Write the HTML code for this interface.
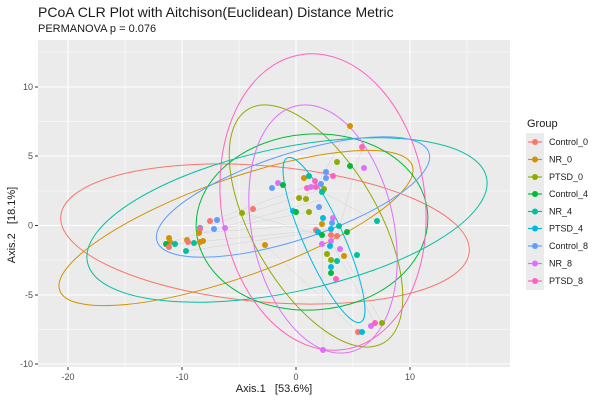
<!DOCTYPE html>
<html><head><meta charset="utf-8"><style>body{margin:0;background:#fff}svg{display:block;font-family:"Liberation Sans","DejaVu Sans",sans-serif}</style></head><body>
<svg width="600" height="400" viewBox="0 0 600 400" xmlns="http://www.w3.org/2000/svg">
<rect width="600" height="400" fill="#fff"/>
<text x="38" y="17" font-size="14" fill="#1a1a1a">PCoA CLR Plot with Aitchison(Euclidean) Distance Metric</text>
<text x="38" y="32" font-size="11" fill="#1a1a1a">PERMANOVA p = 0.076</text>
<rect x="38" y="40" width="472" height="327" fill="#ebebeb"/>
<g stroke="#fff" stroke-width="0.6">
<line x1="125" y1="40" x2="125" y2="367"/><line x1="239" y1="40" x2="239" y2="367"/><line x1="353" y1="40" x2="353" y2="367"/><line x1="467" y1="40" x2="467" y2="367"/>
<line x1="38" y1="52" x2="510" y2="52"/><line x1="38" y1="121.5" x2="510" y2="121.5"/><line x1="38" y1="191" x2="510" y2="191"/><line x1="38" y1="260" x2="510" y2="260"/><line x1="38" y1="329.5" x2="510" y2="329.5"/>
</g>
<g stroke="#fff" stroke-width="1.1">
<line x1="68" y1="40" x2="68" y2="367"/><line x1="182" y1="40" x2="182" y2="367"/><line x1="296" y1="40" x2="296" y2="367"/><line x1="410" y1="40" x2="410" y2="367"/>
<line x1="38" y1="87" x2="510" y2="87"/><line x1="38" y1="156" x2="510" y2="156"/><line x1="38" y1="225.5" x2="510" y2="225.5"/><line x1="38" y1="295" x2="510" y2="295"/><line x1="38" y1="364" x2="510" y2="364"/>
</g>
<g stroke="#bbb" stroke-width="0.5" opacity="0.5">
<line x1="170" y1="242" x2="320" y2="200"/><line x1="186" y1="251" x2="330" y2="230"/><line x1="200" y1="228" x2="320" y2="190"/><line x1="210" y1="221" x2="325" y2="180"/><line x1="242" y1="213" x2="340" y2="240"/><line x1="265" y1="245" x2="358" y2="332"/><line x1="323" y1="350" x2="322" y2="235"/><line x1="375" y1="323" x2="331" y2="241"/><line x1="350" y1="126" x2="316" y2="187"/><line x1="362" y1="147" x2="337" y2="236"/><line x1="175" y1="244" x2="331" y2="229"/><line x1="199" y1="233" x2="322" y2="224"/><line x1="225" y1="228" x2="309" y2="212"/><line x1="377" y1="221" x2="322" y2="192"/><line x1="382" y1="323" x2="340" y2="249"/>
</g>
<g fill="none" stroke-width="1">
<ellipse cx="265" cy="234" rx="205" ry="68" transform="rotate(5 265 234)" stroke="#F8766D"/>
<ellipse cx="236" cy="228" rx="187" ry="49" transform="rotate(-19.5 236 228)" stroke="#D39200"/>
<ellipse cx="316" cy="226" rx="135" ry="63" transform="rotate(60 316 226)" stroke="#93AA00"/>
<ellipse cx="312" cy="222" rx="116" ry="88" transform="rotate(-4 312 222)" stroke="#00BA38"/>
<ellipse cx="287" cy="220" rx="204" ry="72" transform="rotate(-12 287 220)" stroke="#00C19F"/>
<ellipse cx="324" cy="240" rx="90" ry="20" transform="rotate(66 324 240)" stroke="#00B9E3"/>
<ellipse cx="293" cy="197" rx="143" ry="43" transform="rotate(-18 293 197)" stroke="#619CFF"/>
<ellipse cx="323" cy="229" rx="126" ry="71" transform="rotate(78 323 229)" stroke="#DB72FB"/>
<ellipse cx="323" cy="202" rx="149" ry="102" transform="rotate(82 323 202)" stroke="#FF61C3"/>
</g>
<g>
<circle cx="350" cy="126" r="3" fill="#D39200"/><circle cx="362" cy="147" r="3" fill="#FF61C3"/><circle cx="364" cy="168" r="3" fill="#DB72FB"/><circle cx="337" cy="162" r="3" fill="#93AA00"/><circle cx="350" cy="166" r="3" fill="#00BA38"/><circle cx="304" cy="178" r="3" fill="#D39200"/><circle cx="309" cy="176" r="3" fill="#00C19F"/><circle cx="326" cy="172" r="3" fill="#619CFF"/><circle cx="326" cy="178" r="3" fill="#619CFF"/><circle cx="333" cy="176" r="3" fill="#FF61C3"/><circle cx="315" cy="181" r="3" fill="#FF61C3"/><circle cx="321" cy="184" r="3" fill="#619CFF"/><circle cx="278" cy="183" r="3" fill="#DB72FB"/><circle cx="283" cy="185" r="3" fill="#00BA38"/><circle cx="272" cy="188" r="3" fill="#619CFF"/><circle cx="307" cy="188" r="3" fill="#FF61C3"/><circle cx="311" cy="187" r="3" fill="#DB72FB"/><circle cx="316" cy="187" r="3" fill="#FF61C3"/><circle cx="324" cy="189" r="3" fill="#93AA00"/><circle cx="322" cy="192" r="3" fill="#00C19F"/><circle cx="299" cy="198" r="3" fill="#93AA00"/><circle cx="306" cy="199" r="3" fill="#93AA00"/><circle cx="309" cy="212" r="3" fill="#93AA00"/><circle cx="242" cy="213" r="3" fill="#93AA00"/><circle cx="253" cy="209" r="3" fill="#F8766D"/><circle cx="319" cy="207" r="3" fill="#619CFF"/><circle cx="293" cy="211" r="3" fill="#00B9E3"/><circle cx="296" cy="212" r="3" fill="#00BA38"/><circle cx="323" cy="218" r="3" fill="#00B9E3"/><circle cx="333" cy="218" r="3" fill="#DB72FB"/><circle cx="332" cy="223" r="3" fill="#619CFF"/><circle cx="322" cy="224" r="3" fill="#D39200"/><circle cx="339" cy="226" r="3" fill="#00C19F"/><circle cx="316" cy="230" r="3" fill="#F8766D"/><circle cx="318" cy="232" r="3" fill="#00B9E3"/><circle cx="331" cy="229" r="3" fill="#00B9E3"/><circle cx="347" cy="232" r="3" fill="#00BA38"/><circle cx="377" cy="221" r="3" fill="#00C19F"/><circle cx="322" cy="235" r="3" fill="#00BA38"/><circle cx="331" cy="235" r="3" fill="#F8766D"/><circle cx="337" cy="236" r="3" fill="#F8766D"/><circle cx="322" cy="244" r="3" fill="#DB72FB"/><circle cx="331" cy="241" r="3" fill="#DB72FB"/><circle cx="330" cy="246" r="3" fill="#00B9E3"/><circle cx="340" cy="249" r="3" fill="#DB72FB"/><circle cx="327" cy="254" r="3" fill="#93AA00"/><circle cx="344" cy="256" r="3" fill="#D39200"/><circle cx="357" cy="255" r="3" fill="#00C19F"/><circle cx="331" cy="260" r="3" fill="#93AA00"/><circle cx="337" cy="261" r="3" fill="#00C19F"/><circle cx="331" cy="267" r="3" fill="#00B9E3"/><circle cx="331" cy="273" r="3" fill="#00BA38"/><circle cx="336" cy="279" r="3" fill="#FF61C3"/><circle cx="265" cy="245" r="3" fill="#D39200"/>
<circle cx="210" cy="221" r="3" fill="#F8766D"/><circle cx="217" cy="220" r="3" fill="#619CFF"/><circle cx="214" cy="229" r="3" fill="#619CFF"/><circle cx="225" cy="228" r="3" fill="#DB72FB"/><circle cx="200" cy="228" r="3" fill="#00C19F"/><circle cx="200" cy="229" r="3" fill="#FF61C3"/><circle cx="199" cy="233" r="3" fill="#D39200"/><circle cx="187" cy="240" r="3" fill="#D39200"/><circle cx="203" cy="241" r="3" fill="#D39200"/><circle cx="200" cy="242" r="3" fill="#D39200"/><circle cx="188" cy="242" r="3" fill="#F8766D"/><circle cx="194" cy="243" r="3" fill="#00C19F"/><circle cx="186" cy="251" r="3" fill="#00C19F"/><circle cx="169" cy="238" r="3" fill="#D39200"/><circle cx="170" cy="242" r="3" fill="#D39200"/><circle cx="166" cy="244" r="3" fill="#00BA38"/><circle cx="175" cy="244" r="3" fill="#00C19F"/><circle cx="169" cy="247" r="3" fill="#F8766D"/>
<circle cx="358" cy="332" r="3" fill="#F8766D"/><circle cx="362" cy="332" r="3" fill="#00B9E3"/><circle cx="371" cy="326" r="3" fill="#DB72FB"/><circle cx="375" cy="323" r="3" fill="#FF61C3"/><circle cx="382" cy="323" r="3" fill="#93AA00"/><circle cx="323" cy="350" r="3" fill="#DB72FB"/>
</g>
<g stroke="#333" stroke-width="1">
<line x1="68" y1="367" x2="68" y2="370"/><line x1="182" y1="367" x2="182" y2="370"/><line x1="296" y1="367" x2="296" y2="370"/><line x1="410" y1="367" x2="410" y2="370"/>
<line x1="35" y1="87" x2="38" y2="87"/><line x1="35" y1="156" x2="38" y2="156"/><line x1="35" y1="225.5" x2="38" y2="225.5"/><line x1="35" y1="295" x2="38" y2="295"/><line x1="35" y1="364" x2="38" y2="364"/>
</g>
<g font-size="9" fill="#4d4d4d" text-anchor="middle">
<text x="68" y="380">-20</text><text x="182" y="380">-10</text><text x="296" y="380">0</text><text x="410" y="380">10</text>
</g>
<g font-size="9" fill="#4d4d4d" text-anchor="end">
<text x="33" y="90">10</text><text x="33" y="159">5</text><text x="33" y="228.5">0</text><text x="33" y="298">-5</text><text x="33" y="367">-10</text>
</g>
<text x="274" y="392" font-size="11" fill="#1a1a1a" text-anchor="middle" xml:space="preserve">Axis.1   [53.6%]</text>
<text transform="translate(15 225) rotate(-90)" font-size="11" fill="#1a1a1a" text-anchor="middle" xml:space="preserve">Axis.2   [18.1%]</text>
<text x="527" y="127" font-size="11" fill="#1a1a1a">Group</text>
<rect x="526" y="133" width="18" height="157" fill="#ebebeb"/>
<g stroke-width="1.2">
<line x1="528" y1="142" x2="542" y2="142" stroke="#F8766D"/><circle cx="535" cy="142" r="3" fill="#F8766D"/>
<line x1="528" y1="159.5" x2="542" y2="159.5" stroke="#D39200"/><circle cx="535" cy="159.5" r="3" fill="#D39200"/>
<line x1="528" y1="177" x2="542" y2="177" stroke="#93AA00"/><circle cx="535" cy="177" r="3" fill="#93AA00"/>
<line x1="528" y1="194" x2="542" y2="194" stroke="#00BA38"/><circle cx="535" cy="194" r="3" fill="#00BA38"/>
<line x1="528" y1="211.5" x2="542" y2="211.5" stroke="#00C19F"/><circle cx="535" cy="211.5" r="3" fill="#00C19F"/>
<line x1="528" y1="228.5" x2="542" y2="228.5" stroke="#00B9E3"/><circle cx="535" cy="228.5" r="3" fill="#00B9E3"/>
<line x1="528" y1="246" x2="542" y2="246" stroke="#619CFF"/><circle cx="535" cy="246" r="3" fill="#619CFF"/>
<line x1="528" y1="263.5" x2="542" y2="263.5" stroke="#DB72FB"/><circle cx="535" cy="263.5" r="3" fill="#DB72FB"/>
<line x1="528" y1="281" x2="542" y2="281" stroke="#FF61C3"/><circle cx="535" cy="281" r="3" fill="#FF61C3"/>
</g>
<g font-size="9" fill="#1a1a1a">
<text x="549" y="145">Control_0</text><text x="549" y="162.5">NR_0</text><text x="549" y="180">PTSD_0</text><text x="549" y="197">Control_4</text><text x="549" y="214.5">NR_4</text><text x="549" y="231.5">PTSD_4</text><text x="549" y="249">Control_8</text><text x="549" y="266.5">NR_8</text><text x="549" y="284">PTSD_8</text>
</g>
</svg>
</body></html>
